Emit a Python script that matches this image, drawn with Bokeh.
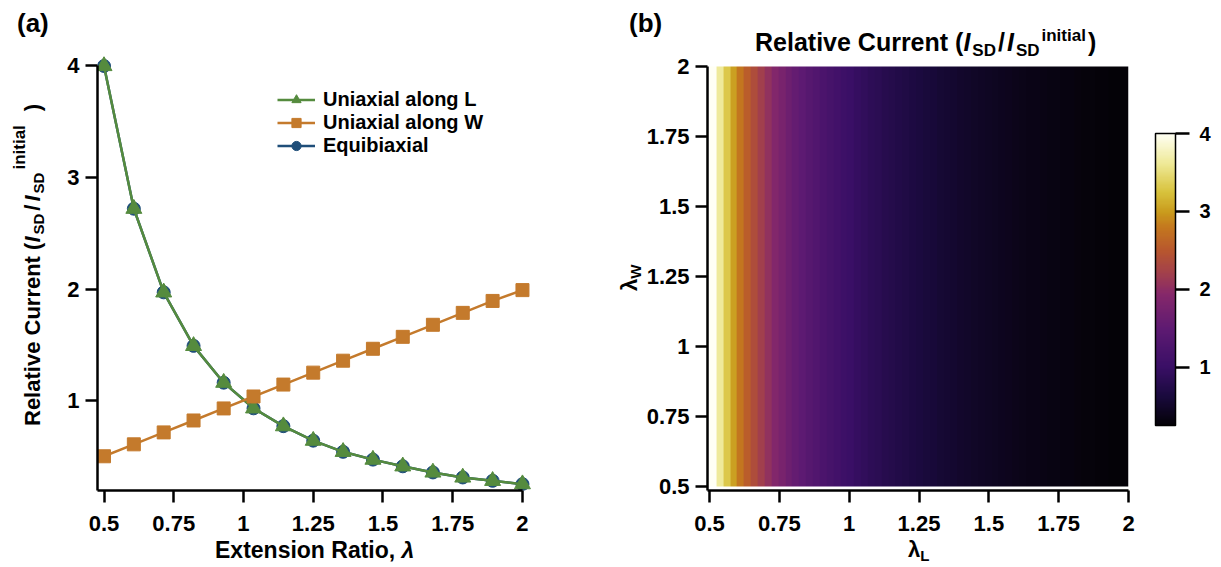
import numpy as np
from bokeh.plotting import figure
from bokeh.layouts import row, column
from bokeh.models import (Legend, LegendItem, ColorBar, LinearColorMapper,
                          FixedTicker, Range1d, Div)
from bokeh.embed import file_html
from bokeh.resources import INLINE

# ---------------- data ----------------
lam = [0.5, 0.607, 0.714, 0.821, 0.929, 1.036, 1.143, 1.25, 1.357, 1.464,
       1.571, 1.679, 1.786, 1.893, 2.0]
uni_L = [4.0, 2.72, 1.97, 1.49, 1.16, 0.93, 0.77, 0.64, 0.54, 0.47,
         0.41, 0.355, 0.31, 0.28, 0.25]
uni_W = [0.5, 0.607, 0.714, 0.821, 0.929, 1.036, 1.143, 1.25, 1.357, 1.464,
         1.571, 1.679, 1.786, 1.893, 1.99]
equi = [4.0, 2.72, 1.97, 1.49, 1.16, 0.93, 0.77, 0.64, 0.54, 0.47,
        0.41, 0.355, 0.31, 0.28, 0.25]

# heat map: relative current along lambda_L (0.5 .. 2.0, step 0.025), same for every lambda_W
heat_vals = [4.000, 3.628, 3.306, 3.025, 2.778, 2.560, 2.367, 2.195, 2.041, 1.902,
             1.778, 1.665, 1.563, 1.469, 1.384, 1.306, 1.235, 1.169, 1.108, 1.052,
             1.000, 0.952, 0.907, 0.865, 0.826, 0.790, 0.756, 0.724, 0.694, 0.666,
             0.640, 0.615, 0.592, 0.570, 0.549, 0.529, 0.510, 0.492, 0.476, 0.460,
             0.444, 0.430, 0.416, 0.403, 0.391, 0.379, 0.367, 0.356, 0.346, 0.336,
             0.327, 0.317, 0.309, 0.300, 0.292, 0.284, 0.277, 0.270, 0.263, 0.256,
             0.250]
lamL_span = [0.5, 2.0]
lamW_span = [0.5, 2.0]

x_ticks = [0.5, 0.75, 1.0, 1.25, 1.5, 1.75, 2.0]
x_tick_labels = ["0.5", "0.75", "1", "1.25", "1.5", "1.75", "2"]
a_y_ticks = [1, 2, 3, 4]
cb_ticks = [1, 2, 3, 4]

FONT = "Liberation Sans"
green = "#558B3E"
orange = "#C47A2C"
blue = "#1F4E79"

# colour scale (black - purple - red-brown - gold - white), as in the reference colour bar
anchor_pos = [0.0, 0.10, 0.20, 0.33, 0.45, 0.52, 0.60, 0.68, 0.73, 0.80, 0.90, 1.0]
anchor_col = ["#040207", "#1A0A3E", "#3A0F66", "#5E1A72", "#86286A", "#A2404C",
              "#B8572E", "#C4781E", "#C99A1C", "#D8C23C", "#EFEA98", "#FFFFF4"]


def make_palette(n=256):
    rgb = np.array([[int(c[i:i + 2], 16) for i in (1, 3, 5)] for c in anchor_col], float)
    t = np.linspace(0, 1, n)
    chans = [np.interp(t, anchor_pos, rgb[:, k]) for k in range(3)]
    return ["#%02x%02x%02x" % (int(round(r)), int(round(g)), int(round(b)))
            for r, g, b in zip(*chans)]


palette = make_palette()


def style_axes(p, tick_size="22px"):
    for ax in (p.xaxis[0], p.yaxis[0]):
        ax.axis_line_width = 2.5
        ax.axis_line_color = "black"
        ax.major_tick_out = 12
        ax.major_tick_in = 0
        ax.major_tick_line_width = 2.5
        ax.major_tick_line_color = "black"
        ax.minor_tick_line_color = None
        ax.major_label_text_font = FONT
        ax.major_label_text_font_style = "bold"
        ax.major_label_text_font_size = tick_size
        ax.major_label_text_color = "black"
    p.xaxis[0].major_label_standoff = 13
    p.yaxis[0].major_label_standoff = 6
    p.xgrid.visible = False
    p.ygrid.visible = False
    p.outline_line_color = None


H = 562  # figure height (page px)

# ---------------- panel (a) ----------------
pa = figure(width=615, height=H, output_backend="svg", toolbar_location=None,
            x_range=Range1d(0.4767, 2.036), y_range=Range1d(0.193, 4.094),
            min_border_left=97, min_border_right=83, min_border_top=55,
            min_border_bottom=72, background_fill_color="white",
            border_fill_color="white")
style_axes(pa)
pa.xaxis[0].ticker = FixedTicker(ticks=x_ticks)
pa.xaxis[0].major_label_overrides = dict(zip(x_ticks, x_tick_labels))
pa.yaxis[0].ticker = FixedTicker(ticks=a_y_ticks)
pa.xaxis[0].bounds = (0.4767, 2.0)
pa.yaxis[0].bounds = (0.193, 4.0)

r_eq_l = pa.line(lam, equi, line_color=blue, line_width=2.5)
r_eq_m = pa.scatter(lam, equi, marker="circle", size=13, fill_color=blue, line_color=blue)
r_L_l = pa.line(lam, uni_L, line_color=green, line_width=2.5)
r_L_m = pa.scatter(lam, uni_L, marker="triangle", size=16, fill_color=green, line_color=green)
r_W_l = pa.line(lam, uni_W, line_color=orange, line_width=2.5)
r_W_m = pa.scatter(lam, uni_W, marker="square", size=13, fill_color=orange, line_color=orange)

legend = Legend(items=[
    LegendItem(label="Uniaxial along L", renderers=[r_L_l, r_L_m]),
    LegendItem(label="Uniaxial along W", renderers=[r_W_l, r_W_m]),
    LegendItem(label="Equibiaxial", renderers=[r_eq_l, r_eq_m]),
], location=(180, 333), padding=0, margin=0, spacing=0, glyph_width=38,
    glyph_height=23, label_height=22, label_standoff=8,
    label_text_font=FONT, label_text_font_style="bold", label_text_font_size="20px",
    label_text_color="black", background_fill_alpha=0, border_line_color=None)
pa.add_layout(legend)

# ---------------- panel (b) ----------------
mapper = LinearColorMapper(palette=palette, low=0.25, high=4.0)
pb = figure(width=604, height=H, output_backend="svg", toolbar_location=None,
            x_range=Range1d(0.4928, 2.0), y_range=Range1d(0.4857, 2.0393),
            min_border_left=92, min_border_right=91, min_border_top=55,
            min_border_bottom=72, background_fill_color="white",
            border_fill_color="white")
style_axes(pb)
pb.xaxis[0].ticker = FixedTicker(ticks=x_ticks)
pb.xaxis[0].major_label_overrides = dict(zip(x_ticks, x_tick_labels))
pb.yaxis[0].ticker = FixedTicker(ticks=x_ticks)
pb.yaxis[0].major_label_overrides = dict(zip(x_ticks, x_tick_labels))
pb.yaxis[0].bounds = (0.4857, 2.0)

img = np.array([heat_vals, heat_vals], dtype=float)
pb.image(image=[img], x=lamL_span[0], y=lamW_span[0],
         dw=lamL_span[1] - lamL_span[0], dh=lamW_span[1] - lamW_span[0],
         color_mapper=mapper)

cb = ColorBar(color_mapper=mapper, ticker=FixedTicker(ticks=cb_ticks),
              width=20, height=292, location=(448, 65), padding=0, margin=0,
              major_tick_out=14, major_tick_in=0, major_tick_line_color="black",
              major_tick_line_width=2.5, minor_tick_line_color=None,
              major_label_text_font=FONT, major_label_text_font_style="bold",
              major_label_text_font_size="20px", major_label_text_color="black",
              label_standoff=10, bar_line_color="black", bar_line_width=1.5,
              background_fill_alpha=0, border_line_color=None)
pb.add_layout(cb)

# ---------------- rich-text labels (HTML, real text) ----------------
ASC = 0.8465   # baseline position inside a line box of line-height 1
SHIFT = 11.5   # measured vertical offset of the overlay origin


def sub(t, size, dy, ml=0):
    return (f'<span style="font-size:{size}px;position:relative;top:{dy}px;'
            f'line-height:0;margin-left:{ml}px">{t}</span>')


def it(t):
    return f'<span style="font-style:italic">{t}</span>'


def sp(t, ml):
    return f'<span style="margin-left:{ml}px">{t}</span>'


def htext(x, base, size, inner):
    top = base - ASC * size - H - SHIFT
    return (f'<div style="position:absolute;left:{x}px;top:{top:.1f}px;'
            f'font-size:{size}px;line-height:{size}px;white-space:nowrap;">{inner}</div>')


def vtext(base_x, y_start, size, inner):
    left = base_x - ASC * size
    top = y_start - H - SHIFT
    return (f'<div style="position:absolute;left:{left:.1f}px;top:{top:.1f}px;'
            f'font-size:{size}px;line-height:{size}px;white-space:nowrap;'
            f'transform:rotate(-90deg);transform-origin:0 0;">{inner}</div>')


pieces = [
    htext(17, 31, 26, "(a)"),
    htext(629, 31, 26, "(b)"),
    htext(755, 51, 25, "Relative Current (" + it("I") + sub("SD", 17, 5, 2)
          + sp("/", 2) + sp(it("I"), 2) + sub("SD", 17, 5, 2)
          + sub("initial", 17, -10, 2) + sp(")", 2)),
    htext(215, 558, 23, "Extension Ratio, " + it("λ")),
    htext(908, 557, 22, "λ" + sub("L", 15, 4)),
    vtext(41, 425, 22, "Relative Current (" + it("I") + sub("SD", 15, 4, 2)
          + sp("/", 3) + sp(it("I"), 3) + sub("SD", 15, 4, 2)
          + sub("initial", 17, -15, 3) + sp(")", 14)),
    vtext(638, 290, 22, "λ" + sub("W", 15, 4)),
]
html = ('<div style="position:relative;width:0;height:0;overflow:visible;'
        f'font-family:\'{FONT}\',Arial,sans-serif;font-weight:bold;color:black;">'
        + "".join(pieces) + "</div>")
overlay = Div(text=html, width=1, height=1, margin=0,
              styles={"overflow": "visible"})

layout = column(row(pa, pb), overlay)
open("out.html", "w").write(file_html(layout, INLINE))
